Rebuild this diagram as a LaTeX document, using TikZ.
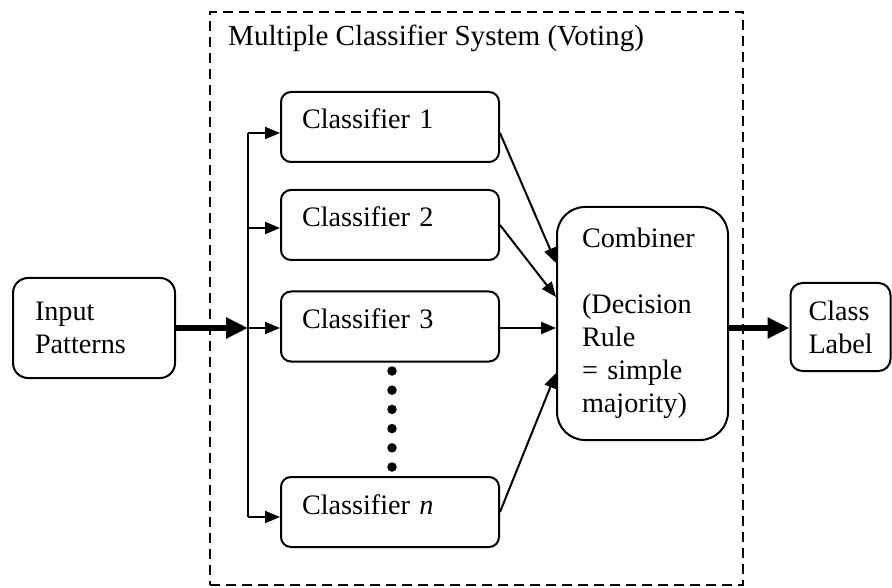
\documentclass[tikz,border=0pt]{standalone}
\usepackage{fontspec}
\setmainfont{Liberation Serif}
\usetikzlibrary{arrows.meta,calc}
\begin{document}
\begin{tikzpicture}[x=1pt,y=-1pt,
  every node/.style={font=\fontsize{28.2}{33}\selectfont},
  box/.style={draw, line width=2pt, align=left, inner ysep=0pt},
  clsbox/.style={box, rounded corners=10pt, minimum width=218pt, minimum height=70pt,
    text width=176pt, inner xsep=21pt, text height=20pt, text depth=16pt},
  thinarrow/.style={line width=2pt, -{Triangle[length=15pt,width=12pt]}},
  thickarrow/.style={line width=6.5pt, -{Triangle[length=22pt,width=20pt]}},
  busline/.style={line width=2pt},
  sysbox/.style={draw, dash pattern=on 10pt off 6pt, line width=2.6pt, inner sep=0pt},
  dotmark/.style={circle, fill, inner sep=0pt, minimum size=9.5pt},
  ]
\useasboundingbox (0,0) rectangle (892,588);
% system frame
\node[sysbox, minimum width=533pt, minimum height=573pt] (sys) at (476.5,298.5) {};
\node[anchor=base west, inner sep=0pt, font=\fontsize{29.1}{33}\selectfont] (title) at (228,46) {Multiple Classifier System (Voting)};
% input and output
\node[box, rounded corners=15pt, minimum height=100pt, text width=118pt, inner xsep=22pt] (in) at (94,328) {Input\\Patterns};
\node[box, rounded corners=12pt, minimum height=88pt, text width=64pt, inner xsep=18pt] (lab) at (840.5,327) {Class\\Label};
% classifiers
\node[clsbox] (c1) at (390,127) {Classifier 1};
\node[clsbox] (c2) at (390,225) {Classifier 2};
\node[clsbox] (c3) at (390,326.5) {Classifier 3};
\node[clsbox] (cn) at (390,512) {Classifier \textit{n}};
\foreach \k in {0,...,5} \node[dotmark] (dot\k) at (392,371+19.2*\k) {};
% combiner
\node[box, rounded corners=28pt, minimum height=233pt, text width=121pt, inner xsep=25pt] (comb) at (642.5,323.5)
  {Combiner\\[33pt](Decision\\Rule\\= simple\\majority)};
% bus
\coordinate (j1) at (248,133);
\coordinate (j2) at (248,228);
\coordinate (j3) at (248,328);
\coordinate (jn) at (248,517);
\draw[busline] (j1) -- (jn);
\draw[thickarrow] (in.east |- j3) -- (j3);
\draw[thinarrow] (j1) -- (j1 -| c1.west);
\draw[thinarrow] (j2) -- (j2 -| c2.west);
\draw[thinarrow] (j3) -- (j3 -| c3.west);
\draw[thinarrow] (jn) -- (jn -| cn.west);
% into combiner
\coordinate (k1) at (557,263);
\coordinate (k2) at (557,297);
\coordinate (k3) at (557,328);
\coordinate (k4) at (557,373);
\draw[thinarrow] (c1.east |- j1) -- (comb.west |- k1);
\draw[thinarrow] (c2.east) -- (comb.west |- k2);
\draw[thinarrow] (c3.east |- j3) -- (comb.west |- k3);
\draw[thinarrow] (cn.east) -- (comb.west |- k4);
% output
\draw[thickarrow] (comb.east |- k3) -- (lab.west |- k3);
\end{tikzpicture}
\end{document}
